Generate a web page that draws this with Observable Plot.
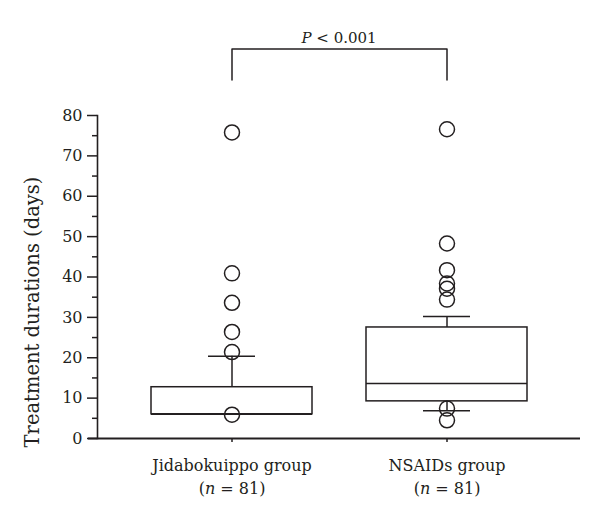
<!DOCTYPE html>
<html>
<head>
<meta charset="utf-8">
<script src="https://cdn.jsdelivr.net/npm/d3@7"></script>
<script src="https://cdn.jsdelivr.net/npm/@observablehq/plot@0.6"></script>
<style>
  html, body { margin: 0; padding: 0; background: #fff; }
  svg { display: block; }
</style>
</head>
<body>
<div id="chart"></div>
<script>
// ---- data ----
const groups = ["Jidabokuippo group", "NSAIDs group"];
const groupN = [81, 81];
const q1 = [6, 9.2];
const median = [6, 13.6];
const q3 = [12.7, 27.5];
const whiskerLow = [6, 6.9];
const whiskerHigh = [20.4, 30.2];
const outliersJida = [75.8, 40.9, 33.6, 26.4, 21.4, 5.9];
const outliersNsaid = [76.6, 48.3, 41.7, 38.4, 37.1, 34.4, 7.4, 4.5];
const yTicks = [0, 10, 20, 30, 40, 50, 60, 70, 80];
const yMinorTicks = [5, 15, 25, 35, 45, 55, 65, 75];
const bracketLow = 88.8, bracketHigh = 96.5;
const pLabel = "P < 0.001";
const yLabel = "Treatment durations (days)";

const boxes = groups.map((g, i) => ({
  group: g, q1: q1[i], median: median[i], q3: q3[i], lo: whiskerLow[i], hi: whiskerHigh[i]
}));
const outliers = [
  ...outliersJida.map(v => ({group: groups[0], value: v})),
  ...outliersNsaid.map(v => ({group: groups[1], value: v}))
];
const bracket = [
  {group: groups[0], y: bracketLow},
  {group: groups[0], y: bracketHigh},
  {group: groups[1], y: bracketHigh},
  {group: groups[1], y: bracketLow}
];

const ink = "#231f20";
const font = "DejaVu Serif";

const plot = Plot.plot({
  width: 600,
  height: 526,
  marginLeft: 97,
  marginRight: 20,
  marginTop: 115,
  marginBottom: 88,
  style: {fontFamily: font, color: ink, background: "#fff", overflow: "visible"},
  x: {type: "band", domain: groups, range: [151, 527], paddingInner: 0.253, paddingOuter: 0},
  y: {domain: [0, 80]},
  marks: [
    // y axis line
    Plot.frame({anchor: "left", stroke: ink, strokeWidth: 1.6}),
    Plot.axisY(yTicks, {tickSize: 10, tickPadding: 5, fontSize: 16, label: null, stroke: ink, strokeWidth: 1.5, fill: ink}),
    Plot.axisY(yMinorTicks, {tickSize: 5, tickFormat: () => "", label: null, stroke: ink, strokeWidth: 1.5}),
    Plot.axisX({
      tickSize: 4, tickPadding: 12, fontSize: 16, lineHeight: 1.44, label: null,
      stroke: ink, strokeWidth: 1.5, fill: ink,
      tickFormat: (d) => `${d}\n(n = ${groupN[groups.indexOf(d)]})`
    }),
    // x axis line
    Plot.ruleY([0], {stroke: ink, strokeWidth: 2, insetLeft: -9}),
    // boxes
    Plot.barY(boxes, {x: "group", y1: "q1", y2: "q3", fill: "white", stroke: ink, strokeWidth: 1.5}),
    Plot.tickY(boxes, {x: "group", y: "median", stroke: ink, strokeWidth: 1.5}),
    // whiskers
    Plot.ruleX(boxes, {x: "group", y1: "q3", y2: "hi", stroke: ink, strokeWidth: 1.5}),
    Plot.ruleX(boxes, {x: "group", y1: "q1", y2: "lo", stroke: ink, strokeWidth: 1.5}),
    Plot.tickY(boxes, {x: "group", y: "hi", stroke: ink, strokeWidth: 1.5, insetLeft: 57, insetRight: 57}),
    Plot.tickY(boxes, {x: "group", y: "lo", stroke: ink, strokeWidth: 1.5, insetLeft: 57, insetRight: 57}),
    // outliers
    Plot.dot(outliers, {x: "group", y: "value", r: 7.5, fill: "none", stroke: ink, strokeWidth: 1.5}),
    // significance bracket
    Plot.line(bracket, {x: "group", y: "y", stroke: ink, strokeWidth: 1.5, curve: "linear"}),
    Plot.text([pLabel], {frameAnchor: "top", textAnchor: "middle", dy: -83, fontSize: 15, fill: ink, fontFamily: font}),
    // y label
    Plot.text([yLabel], {frameAnchor: "left", textAnchor: "middle", rotate: -90, dx: -65, dy: 35, fontSize: 19.5, fill: ink, fontFamily: font})
  ]
});

// italicize statistic symbols
plot.querySelectorAll("text, tspan").forEach(el => {
  if (el.children.length) return;
  const t = el.textContent;
  if (t === pLabel) {
    el.innerHTML = '<tspan font-style="italic">P</tspan> &lt; 0.001';
  } else if (/^\(n = \d+\)$/.test(t)) {
    const num = t.match(/\d+/)[0];
    el.innerHTML = `(<tspan font-style="italic">n</tspan> = ${num})`;
  }
});

document.getElementById("chart").appendChild(plot);
</script>
</body>
</html>
